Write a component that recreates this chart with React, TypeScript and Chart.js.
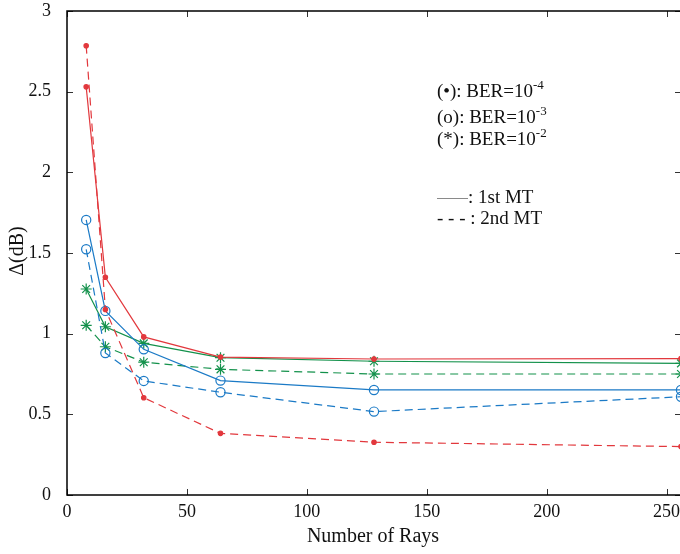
import React, { useEffect, useRef } from 'react';
import { Chart, registerables } from 'chart.js';

Chart.register(...registerables);

// ---- data ----
const rays = [8, 16, 32, 64, 128, 256];
const ber4First = [2.53, 1.35, 0.98, 0.855, 0.843, 0.845];
const ber4Second = [2.785, 1.15, 0.603, 0.382, 0.327, 0.3];
const ber3First = [1.705, 1.141, 0.903, 0.709, 0.651, 0.651];
const ber3Second = [1.523, 0.88, 0.707, 0.637, 0.517, 0.609];
const ber2First = [1.277, 1.043, 0.94, 0.851, 0.829, 0.816];
const ber2Second = [1.052, 0.919, 0.823, 0.779, 0.75, 0.75];

const xTicks = [0, 50, 100, 150, 200, 250];
const yTicks = [0, 0.5, 1, 1.5, 2, 2.5, 3];
const xLabel = 'Number of Rays';
const yLabel = 'Δ(dB)';
const berNotes = [
  { text: '(•): BER=10', exp: '-4' },
  { text: '(o): BER=10', exp: '-3' },
  { text: '(*): BER=10', exp: '-2' },
];
const mtNotes = [': 1st MT', '- - - : 2nd MT'];

const RED = '#e2383d';
const BLUE = '#1b7ac6';
const GREEN = '#13914b';
const SERIF = '"Liberation Serif", "Times New Roman", serif';

const pts = (ys: number[]) => rays.map((r, i) => ({ x: r, y: ys[i] }));

const framePlugin = {
  id: 'frame',
  afterDraw(chart: any) {
    const { ctx, chartArea, scales } = chart;
    const { left, right, top, bottom } = chartArea;
    const x = scales.x;
    const y = scales.y;
    const line = (x1: number, y1: number, x2: number, y2: number) => {
      ctx.beginPath();
      ctx.moveTo(x1, y1);
      ctx.lineTo(x2, y2);
      ctx.stroke();
    };
    ctx.save();
    // ticks (inward)
    ctx.strokeStyle = '#333';
    ctx.lineWidth = 1;
    xTicks.forEach((v) => {
      const px = Math.round(x.getPixelForValue(v)) + 0.5;
      line(px, bottom, px, bottom - 6);
      line(px, top, px, top + 6);
    });
    yTicks.forEach((v) => {
      const py = Math.round(y.getPixelForValue(v)) + 0.5;
      line(left, py, left + 6, py);
      line(right, py, right - 6, py);
    });
    // box
    ctx.strokeStyle = '#000';
    ctx.lineWidth = 1.5;
    ctx.strokeRect(left, top, right - left, bottom - top);

    // axis titles
    ctx.fillStyle = '#111';
    ctx.font = `20px ${SERIF}`;
    ctx.textAlign = 'center';
    ctx.textBaseline = 'middle';
    ctx.fillText(xLabel, 373, 537);
    ctx.save();
    ctx.translate(18, 251);
    ctx.rotate(-Math.PI / 2);
    ctx.fillText(yLabel, 0, 0);
    ctx.restore();

    // annotation block
    ctx.textAlign = 'left';
    ctx.textBaseline = 'alphabetic';
    const bx = 437;
    const baselines = [97, 123, 145];
    berNotes.forEach((n, i) => {
      ctx.font = `19px ${SERIF}`;
      ctx.fillText(n.text, bx, baselines[i]);
      const w = ctx.measureText(n.text).width;
      ctx.font = `13px ${SERIF}`;
      ctx.fillText(n.exp, bx + w, baselines[i] - 8);
    });
    ctx.strokeStyle = '#8a8a8a';
    ctx.lineWidth = 1;
    line(bx, 198.5, bx + 31, 198.5);
    ctx.font = `19px ${SERIF}`;
    ctx.fillText(mtNotes[0], bx + 31, 203);
    ctx.fillText(mtNotes[1], bx, 224);
    ctx.restore();
  },
};

export default function App() {
  const ref = useRef<HTMLCanvasElement | null>(null);
  useEffect(() => {
    document.body.style.overflow = 'hidden';
    const canvas = ref.current!;
    const solid = (label: string, data: number[], color: string, style: string, r: number, fill: boolean) => ({
      label,
      data: pts(data),
      borderColor: color,
      backgroundColor: fill ? color : 'rgba(0,0,0,0)',
      pointBorderColor: color,
      pointBackgroundColor: fill ? color : 'rgba(0,0,0,0)',
      borderWidth: 1.2,
      pointStyle: style,
      pointRadius: r,
      pointBorderWidth: 1.2,
      pointHoverRadius: r,
      tension: 0,
      fill: false,
    });
    const dash = [8, 5];
    const chart = new Chart(canvas, {
      type: 'line',
      data: {
        datasets: [
          { ...solid('BER 1e-4 1st MT', ber4First, RED, 'circle', 2.2, true) },
          { ...solid('BER 1e-4 2nd MT', ber4Second, RED, 'circle', 2.2, true), borderDash: dash },
          { ...solid('BER 1e-3 1st MT', ber3First, BLUE, 'circle', 4.6, false) },
          { ...solid('BER 1e-3 2nd MT', ber3Second, BLUE, 'circle', 4.6, false), borderDash: dash },
          { ...solid('BER 1e-2 1st MT', ber2First, GREEN, 'star', 5.5, false) },
          { ...solid('BER 1e-2 2nd MT', ber2Second, GREEN, 'star', 5.5, false), borderDash: dash },
        ] as any,
      },
      options: {
        responsive: false,
        animation: false,
        devicePixelRatio: 1,
        layout: { padding: { left: 0, top: 11, right: 19, bottom: 0 } },
        plugins: { legend: { display: false }, tooltip: { enabled: false } },
        scales: {
          x: {
            type: 'linear',
            min: 0,
            max: 256,
            grid: { display: false, drawTicks: false },
            border: { display: false },
            afterBuildTicks: (s: any) => {
              s.ticks = xTicks.map((v) => ({ value: v }));
            },
            afterFit: (s: any) => {
              s.height = 59;
              s.paddingLeft = 0;
              s.paddingRight = 0;
            },
            ticks: {
              padding: 6,
              maxRotation: 0,
              autoSkip: false,
              color: '#111',
              font: { family: SERIF, size: 18 },
              callback: (v: any) => String(v),
            },
          },
          y: {
            type: 'linear',
            min: 0,
            max: 3,
            grid: { display: false, drawTicks: false },
            border: { display: false },
            afterBuildTicks: (s: any) => {
              s.ticks = yTicks.map((v) => ({ value: v }));
            },
            afterFit: (s: any) => {
              s.width = 67;
              s.paddingTop = 0;
              s.paddingBottom = 0;
            },
            ticks: {
              padding: 16,
              autoSkip: false,
              color: '#111',
              font: { family: SERIF, size: 18 },
              callback: (v: any) => String(v),
            },
          },
        },
      } as any,
      plugins: [framePlugin],
    });
    return () => chart.destroy();
  }, []);
  return (
    <canvas
      ref={ref}
      width={700}
      height={554}
      style={{ position: 'fixed', left: 0, top: 0, width: 700, height: 554, display: 'block' }}
    />
  );
}
